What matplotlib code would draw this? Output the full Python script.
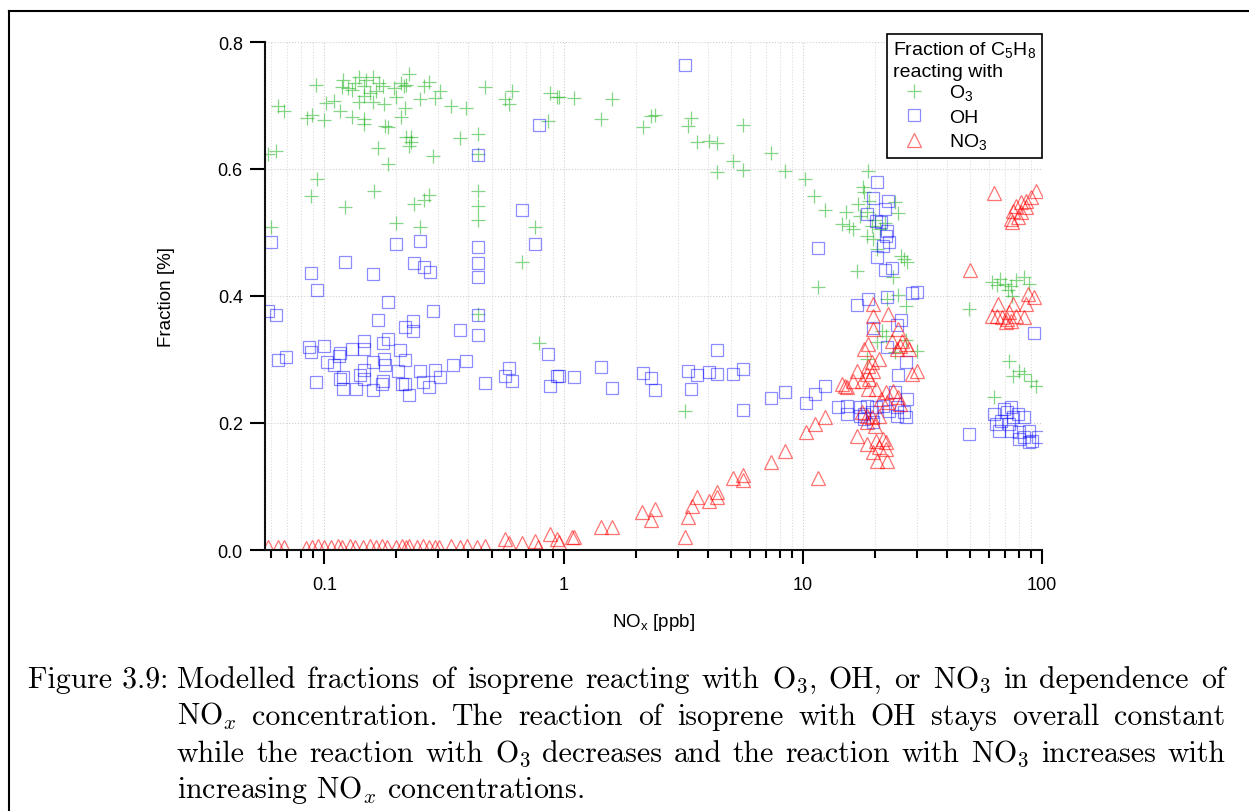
import numpy as np
import matplotlib
matplotlib.use("Agg")
import matplotlib.pyplot as plt
import matplotlib.ticker as mticker
from matplotlib.lines import Line2D

plt.rcParams['font.family'] = ['Liberation Sans', 'DejaVu Sans']

# fraction of isoprene reacting with O3
o3_x = [0.064, 0.068, 0.058, 0.063, 0.092, 0.085, 0.089, 0.10, 0.102, 0.110, 0.116, 0.118, 0.12, 0.13,
        0.14, 0.146, 0.147, 0.147, 0.147, 0.16, 0.16, 0.165, 0.176, 0.178, 0.18, 0.185, 0.167, 0.185,
        0.20, 0.21, 0.218, 0.21, 0.225, 0.22, 0.22, 0.23, 0.227, 0.23, 0.25, 0.26, 0.275, 0.29, 0.305,
        0.34, 0.39, 0.368, 0.437, 0.437, 0.286, 0.47, 0.61, 0.57, 0.59, 0.88, 0.94, 0.86,
        0.125, 0.135, 0.15, 0.155, 0.17, 0.195, 0.215, 0.14, 0.13,
        0.093, 0.088, 0.122, 0.161, 0.236, 0.262, 0.275, 0.20, 0.25, 0.06, 0.437, 0.437, 0.437,
        0.76, 0.67, 0.437, 0.79,
        0.96, 1.11, 1.6, 1.43, 2.14, 2.33, 2.42, 3.3, 3.4, 3.6, 4.07, 4.4, 4.4, 5.1, 5.65, 5.65,
        7.4, 8.4, 10.2, 11.1, 12.4, 15.1, 14.6, 15.6, 11.6, 3.23,
        18.8, 17.8, 18.1, 16.2, 17.3, 18.5, 19.4, 18.5, 19.6, 20.5, 24.2, 25.1, 25.8, 26.5, 27.3,
        16.8, 23.8, 25.1, 22.6, 27.0, 21.4, 22.3, 20.5, 18.5, 24.2, 29.9, 27.0, 19.0, 20.0, 21.0,
        17.0, 22.0,
        62, 67, 70, 74, 75, 84, 88, 49.7, 73, 80, 84, 90, 94, 76, 63, 72, 78, 65]
o3_y = [0.699, 0.691, 0.624, 0.628, 0.732, 0.680, 0.685, 0.677, 0.704, 0.707, 0.691, 0.729, 0.740, 0.682,
        0.745, 0.731, 0.715, 0.679, 0.671, 0.745, 0.705, 0.723, 0.731, 0.702, 0.668, 0.666, 0.633, 0.608,
        0.713, 0.682, 0.696, 0.735, 0.750, 0.732, 0.650, 0.650, 0.636, 0.643, 0.710, 0.731, 0.737, 0.712, 0.723,
        0.700, 0.696, 0.649, 0.655, 0.624, 0.620, 0.729, 0.723, 0.710, 0.702, 0.720, 0.713, 0.676,
        0.728, 0.735, 0.740, 0.720, 0.735, 0.728, 0.730, 0.705, 0.725,
        0.584, 0.557, 0.540, 0.565, 0.545, 0.551, 0.559, 0.515, 0.509, 0.509, 0.565, 0.542, 0.520,
        0.509, 0.454, 0.372, 0.326,
        0.713, 0.712, 0.710, 0.679, 0.666, 0.683, 0.685, 0.668, 0.680, 0.643, 0.644, 0.641, 0.595, 0.613, 0.598, 0.669,
        0.625, 0.597, 0.584, 0.557, 0.535, 0.532, 0.513, 0.510, 0.414, 0.219,
        0.597, 0.572, 0.564, 0.506, 0.526, 0.532, 0.510, 0.494, 0.490, 0.474, 0.548, 0.531, 0.463, 0.458, 0.453,
        0.439, 0.430, 0.402, 0.395, 0.384, 0.345, 0.337, 0.328, 0.301, 0.312, 0.313, 0.330, 0.550, 0.520, 0.505,
        0.545, 0.515,
        0.422, 0.427, 0.419, 0.416, 0.400, 0.430, 0.419, 0.380, 0.298, 0.282, 0.277, 0.266, 0.258, 0.274, 0.241,
        0.410, 0.425, 0.418]

# fraction reacting with OH
oh_x = [0.79, 0.437, 0.06, 0.20, 0.25, 0.437, 0.67, 0.76, 3.23,
        0.122, 0.088, 0.16, 0.236, 0.26, 0.277, 0.437, 0.437, 0.093, 0.185, 0.058, 0.063, 0.167, 0.286,
        0.234, 0.218, 0.234, 0.437, 0.437, 0.368, 0.185, 0.176, 0.147, 0.147, 0.13, 0.116, 0.115, 0.10,
        0.086, 0.088, 0.208, 0.064, 0.069, 0.103, 0.11, 0.16, 0.178, 0.18, 0.218, 0.203, 0.25, 0.29,
        0.345, 0.39, 0.305, 0.147, 0.141, 0.12, 0.116, 0.092, 0.12, 0.136, 0.147, 0.16, 0.176, 0.175,
        0.212, 0.218, 0.225, 0.258, 0.275, 0.47, 0.57, 0.59, 0.61, 0.86, 0.94, 0.88,
        0.96, 1.11, 1.43, 1.6, 2.14, 2.33, 2.42, 3.3, 3.6, 3.4, 4.07, 4.37, 4.4, 5.1, 5.65, 5.65,
        7.4, 8.4, 10.3, 11.2, 12.4, 11.6, 14.0,
        20.5, 19.6, 22.8, 22.0, 18.5, 20.3, 21.3, 22.6, 22.3, 23.0, 21.6, 20.5, 22.0, 23.5, 18.7, 16.8,
        22.6, 28.7, 30.1, 25.8, 19.6, 24.7, 22.6, 27.0, 24.9, 27.3, 15.3, 17.3, 18.5, 19.4, 17.3, 15.3,
        20.3, 18.1, 21.6, 23.0, 24.7, 24.2, 26.5, 27.0, 24.7, 18.1, 19.6,
        92.6, 49.7, 63, 69.5, 71.5, 74.5, 75.3, 79, 84, 64.5, 67.5, 73, 66.4, 74.5, 80.5, 88.6, 84, 91,
        96, 88.6, 80.5]
oh_y = [0.669, 0.622, 0.485, 0.482, 0.487, 0.477, 0.535, 0.482, 0.764,
        0.453, 0.436, 0.435, 0.452, 0.446, 0.438, 0.452, 0.430, 0.409, 0.390, 0.376, 0.370, 0.362, 0.376,
        0.361, 0.351, 0.345, 0.370, 0.339, 0.346, 0.332, 0.326, 0.329, 0.316, 0.316, 0.310, 0.305, 0.321,
        0.320, 0.312, 0.315, 0.299, 0.304, 0.296, 0.291, 0.296, 0.301, 0.291, 0.299, 0.282, 0.282, 0.283,
        0.291, 0.298, 0.272, 0.283, 0.275, 0.272, 0.269, 0.265, 0.254, 0.254, 0.269, 0.252, 0.266, 0.261,
        0.261, 0.261, 0.244, 0.265, 0.257, 0.263, 0.274, 0.287, 0.266, 0.309, 0.274, 0.258,
        0.274, 0.272, 0.288, 0.255, 0.279, 0.271, 0.252, 0.282, 0.276, 0.254, 0.280, 0.277, 0.315, 0.277, 0.285, 0.220,
        0.239, 0.249, 0.232, 0.246, 0.258, 0.476, 0.225,
        0.580, 0.554, 0.550, 0.537, 0.529, 0.518, 0.516, 0.502, 0.494, 0.485, 0.479, 0.461, 0.441, 0.444, 0.395, 0.386,
        0.398, 0.405, 0.406, 0.362, 0.350, 0.354, 0.320, 0.296, 0.276, 0.238, 0.227, 0.225, 0.227, 0.217, 0.211, 0.214,
        0.225, 0.214, 0.227, 0.219, 0.225, 0.249, 0.217, 0.209, 0.211, 0.206, 0.202,
        0.342, 0.183, 0.214, 0.222, 0.217, 0.225, 0.209, 0.214, 0.209, 0.198, 0.203, 0.198, 0.187, 0.187, 0.186, 0.187,
        0.178, 0.172, 0.178, 0.170, 0.175]

# fraction reacting with NO3
no3_x = [0.058, 0.064, 0.068, 0.084, 0.089, 0.094, 0.10, 0.107, 0.114, 0.119, 0.128, 0.134, 0.145, 0.155,
         0.165, 0.175, 0.182, 0.20, 0.212, 0.22, 0.227, 0.243, 0.258, 0.275, 0.29, 0.303, 0.34, 0.368,
         0.393, 0.433, 0.47, 0.57, 0.59, 0.67, 0.757, 0.78, 0.874, 0.94, 1.09, 1.44, 1.59, 2.12,
         0.96, 1.11, 2.4, 2.33, 3.23, 3.3, 3.43, 3.6, 4.07, 4.37, 4.4, 5.1, 5.65, 5.65, 7.4, 8.4, 10.3,
         11.2, 12.4, 11.6, 14.6, 15.3,
         19.6, 19.6, 22.8, 24.9, 19.6, 18.7, 18.1, 26.0, 27.0, 25.4, 24.7, 27.9, 23.5, 20.9, 19.4, 18.7,
         19.6, 18.5, 16.8, 15.0, 16.2, 17.6, 19.0, 18.7, 20.3, 22.3, 24.9, 21.3, 22.6, 23.8, 25.4, 29.9,
         28.7, 17.6, 18.5, 19.4, 20.9, 18.5, 20.0, 16.8, 18.5, 20.3, 21.6, 22.3, 20.9, 22.3, 19.6, 20.5,
         22.6,
         63, 94.7, 90, 86, 82, 78, 76, 82, 74.5, 75, 79, 86, 50, 65.5, 76, 86, 87, 92.5, 62, 65, 68,
         71.5, 74.5, 70.5, 78, 84, 73]
no3_y = [0.005, 0.004, 0.005, 0.003, 0.005, 0.006, 0.004, 0.005, 0.006, 0.005, 0.006, 0.004, 0.005, 0.006,
         0.005, 0.006, 0.004, 0.005, 0.006, 0.005, 0.006, 0.005, 0.006, 0.005, 0.004, 0.005, 0.006, 0.005,
         0.006, 0.005, 0.006, 0.017, 0.011, 0.011, 0.014, 0.005, 0.025, 0.017, 0.020, 0.036, 0.036, 0.060,
         0.013, 0.020, 0.065, 0.047, 0.020, 0.052, 0.069, 0.083, 0.077, 0.083, 0.091, 0.113, 0.118, 0.110,
         0.139, 0.156, 0.186, 0.198, 0.209, 0.113, 0.261, 0.257,
         0.387, 0.369, 0.372, 0.348, 0.348, 0.324, 0.316, 0.329, 0.324, 0.321, 0.316, 0.316, 0.329, 0.301,
         0.296, 0.290, 0.282, 0.277, 0.282, 0.258, 0.266, 0.266, 0.269, 0.254, 0.254, 0.249, 0.241, 0.238,
         0.233, 0.250, 0.230, 0.282, 0.277, 0.217, 0.211, 0.209, 0.211, 0.202, 0.195, 0.180, 0.167, 0.172,
         0.175, 0.170, 0.162, 0.159, 0.154, 0.140, 0.140,
         0.562, 0.565, 0.556, 0.550, 0.548, 0.542, 0.534, 0.532, 0.521, 0.516, 0.524, 0.540, 0.441, 0.387,
         0.387, 0.387, 0.403, 0.398, 0.369, 0.369, 0.367, 0.364, 0.361, 0.359, 0.369, 0.367, 0.375]

caption_lines = [
    "Modelled fractions of isoprene reacting with O$_3$, OH, or NO$_3$ in dependence of",
    "NO$_x$ concentration.  The reaction of isoprene with OH stays overall constant",
    "while the reaction with O$_3$ decreases and the reaction with NO$_3$ increases with",
    "increasing NO$_x$ concentrations.",
]

W, H = 1249, 812
fig = plt.figure(figsize=(W / 100, H / 100), dpi=100)
ax = fig.add_axes([265 / W, 1 - 551 / H, (1042 - 265) / W, (551 - 43) / H])

ax.plot(o3_x, o3_y, ls='none', marker='+', ms=10, mew=0.9, color='#20b420', alpha=0.55,
        label='O$_\\mathregular{3}$')
ax.plot(oh_x, oh_y, ls='none', marker='s', ms=8, mew=0.9, mfc='none', mec='#0000ff', alpha=0.45,
        label='OH')
ax.plot(no3_x, no3_y, ls='none', marker='^', ms=10, mew=0.9, mfc='none', mec='#ff0000', alpha=0.55,
        label='NO$_\\mathregular{3}$')

ax.set_xscale('log')
ax.set_xlim(0.0565, 100)
ax.set_ylim(0, 0.8)
ax.xaxis.set_major_locator(mticker.FixedLocator([0.1, 1, 10, 100]))
ax.xaxis.set_major_formatter(mticker.FuncFormatter(lambda v, p: '%g' % v))
ax.xaxis.set_minor_locator(mticker.LogLocator(base=10, subs=np.arange(2, 10)))
ax.xaxis.set_minor_formatter(mticker.NullFormatter())
ax.yaxis.set_major_locator(mticker.MultipleLocator(0.2))
ax.yaxis.set_major_formatter(mticker.FormatStrFormatter('%.1f'))

for s in ['top', 'right']:
    ax.spines[s].set_visible(False)
for s in ['left', 'bottom']:
    ax.spines[s].set_linewidth(1.5)
    ax.spines[s].set_color('#111111')
ax.tick_params(axis='y', which='major', direction='out', length=11, width=1.5, pad=5, labelsize=13)
ax.tick_params(axis='x', which='major', direction='out', length=10, width=1.5, pad=9, labelsize=13)
ax.tick_params(axis='x', which='minor', direction='out', length=6, width=1.5)

ax.grid(True, which='major', axis='both', ls=':', color='#cfcfcf', lw=0.8)
ax.grid(True, which='minor', axis='x', ls=':', color='#dcdcdc', lw=0.8)
ax.set_axisbelow(True)

ax.set_ylabel('Fraction [%]', fontsize=13.5)
ax.set_xlabel('NO$_\\mathregular{x}$ [ppb]', fontsize=13.5)
ax.yaxis.set_label_coords((175 - 265) / 777, 0.5)
ax.xaxis.set_label_coords(0.5, (551 - 612) / 508)

leg = ax.legend(title='Fraction of C$_\\mathregular{5}$H$_\\mathregular{8}$\nreacting with',
                loc='upper right', bbox_to_anchor=(1042 / W, 1 - 35 / H), bbox_transform=fig.transFigure,
                fontsize=14, title_fontsize=14, alignment='left', fancybox=False, framealpha=1,
                edgecolor='black', handlelength=2.2, handletextpad=0.7, borderpad=0.3, labelspacing=0.3,
                borderaxespad=0, markerfirst=True)
leg.get_frame().set_linewidth(1.2)
leg._legend_box.sep = 2

# page border
fig.add_artist(Line2D([9 / W, 9 / W], [0, 1 - 12 / H], transform=fig.transFigure, color='black', lw=1.5))
fig.add_artist(Line2D([9 / W, 1], [1 - 12 / H, 1 - 12 / H], transform=fig.transFigure, color='black', lw=1.5))

# caption, justified between left and right margins
cap_kw = dict(fontfamily='cmr10', math_fontfamily='cm', fontsize=21.5, va='baseline')
fig.text(28 / W, 1 - 688 / H, 'Figure 3.9:', **cap_kw)
renderer = fig.canvas.get_renderer()
x0, x1 = 177, 1225
baselines = [688, 725, 762, 798]
for i, line in enumerate(caption_lines):
    yb = 1 - baselines[i] / H
    if i == len(caption_lines) - 1:
        fig.text(x0 / W, yb, line, **cap_kw)
        continue
    words = line.split()
    texts = [fig.text(0, yb, w, **cap_kw) for w in words]
    widths = [t.get_window_extent(renderer).width for t in texts]
    gap = (x1 - x0 - sum(widths)) / (len(words) - 1)
    xpos = x0
    for t, wd in zip(texts, widths):
        t.set_x(xpos / W)
        xpos += wd + gap

fig.savefig('out.png', dpi=100)
